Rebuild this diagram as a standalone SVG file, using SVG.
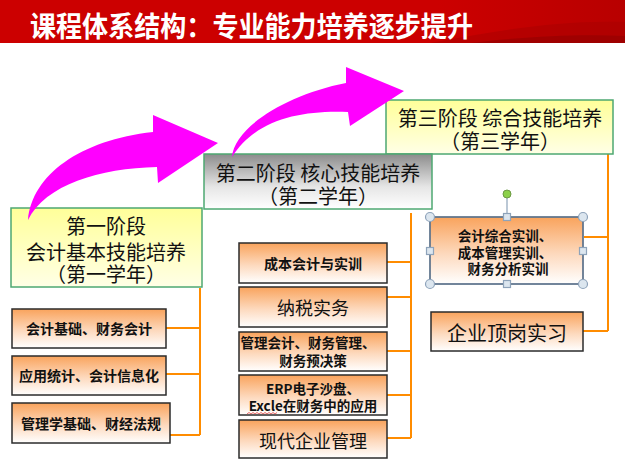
<svg xmlns="http://www.w3.org/2000/svg" width="625" height="463" viewBox="0 0 625 463">
<defs>
<linearGradient id="gTitle" x1="0" y1="0" x2="1" y2="0">
<stop offset="0" stop-color="#cc0000"/><stop offset="0.7" stop-color="#cc0000"/><stop offset="1" stop-color="#b80000"/>
</linearGradient>
<linearGradient id="gYellow" x1="0" y1="0" x2="0" y2="1">
<stop offset="0" stop-color="#ffff99"/><stop offset="1" stop-color="#ffffe6"/>
</linearGradient>
<linearGradient id="gGray" x1="0" y1="0" x2="0" y2="1">
<stop offset="0" stop-color="#8c8c8c"/><stop offset="0.6" stop-color="#e6e6e6"/><stop offset="1" stop-color="#ffffff"/>
</linearGradient>
<linearGradient id="gOrange" x1="0" y1="0" x2="0" y2="1">
<stop offset="0" stop-color="#f9a35c"/><stop offset="0.55" stop-color="#fdd9bd"/><stop offset="1" stop-color="#ffffff"/>
</linearGradient>
<style>
.stage{stroke:#4ea872;stroke-width:1.5}
.item{fill:url(#gOrange);stroke:#2b2b2b;stroke-width:1.5}
.t{font-family:"Noto Sans CJK SC","Liberation Sans",sans-serif;fill:#111;text-anchor:middle;dominant-baseline:central}
.s{font-size:20px}
.i{font-size:14px;font-weight:bold}
.m{font-size:13.5px;font-weight:bold}
.b{font-size:18px}
.con{stroke:#ff8c00;stroke-width:2;fill:none}
.arrow{fill:#ff00ff}
.h{fill:#dce6ef;stroke:#8ea3ba;stroke-width:1.2}
</style>
</defs>
<rect x="0" y="0" width="625" height="463" fill="#ffffff"/>
<g id="title">
<rect x="0" y="0" width="625" height="43" fill="url(#gTitle)"/>
<path d="M430,43 C500,30 560,20 625,22 L625,43 Z" fill="#a80000" opacity="0.5"/>
<path d="M470,43 C530,36 580,34 625,36 L625,43 Z" fill="#8c0000" opacity="0.5"/>
<text x="30" y="25" textLength="443" lengthAdjust="spacingAndGlyphs" style="font-family:'Noto Sans CJK SC','Liberation Sans',sans-serif;font-size:28px;font-weight:bold;fill:#ffffff;dominant-baseline:central">课程体系结构：专业能力培养逐步提升</text>
</g>
<g id="connectors">
<path class="con" d="M200,288 V435 M166,328 H200 M166,374 H200 M170,435 H200"/>
<path class="con" d="M411,213 V438 M387,262 H411 M387,297 H411 M387,351 H411 M387,395 H411 M387,438 H411"/>
<path class="con" d="M608,154 V331 M584,237 H608 M583,331 H608"/>
</g>
<g id="stage3">
<rect class="stage" x="386" y="100" width="227" height="54" fill="url(#gYellow)"/>
<text class="t s"><tspan x="500" y="117">第三阶段 综合技能培养</tspan><tspan x="500" y="140">（第三学年）</tspan></text>
</g>
<g id="stage2">
<rect class="stage" x="204" y="154" width="228" height="55" fill="url(#gGray)"/>
<text class="t s"><tspan x="318" y="172">第二阶段 核心技能培养</tspan><tspan x="318" y="195">（第二学年）</tspan></text>
</g>
<g id="stage1">
<rect class="stage" x="11" y="208" width="191" height="79" fill="url(#gYellow)"/>
<text class="t s"><tspan x="106" y="225">第一阶段</tspan><tspan x="106" y="251">会计基本技能培养</tspan><tspan x="106" y="273">（第一学年）</tspan></text>
</g>
<g id="s1-item1">
<rect class="item" x="12" y="309" width="154" height="39"/>
<text class="t i" x="89" y="328">会计基础、财务会计</text>
</g>
<g id="s1-item2">
<rect class="item" x="12" y="356" width="154" height="39"/>
<text class="t i" x="89" y="375">应用统计、会计信息化</text>
</g>
<g id="s1-item3">
<rect class="item" x="12" y="403" width="158" height="40"/>
<text class="t i" x="91" y="423">管理学基础、财经法规</text>
</g>
<g id="s2-item1">
<rect class="item" x="239" y="243" width="148" height="40"/>
<text class="t i" x="313" y="263">成本会计与实训</text>
</g>
<g id="s2-item2">
<rect class="item" x="239" y="287" width="148" height="40"/>
<text class="t b" x="313" y="307">纳税实务</text>
</g>
<g id="s2-item3">
<rect class="item" x="239" y="332" width="148" height="39"/>
<text class="t m"><tspan x="308" y="342">管理会计、财务管理、</tspan><tspan x="313" y="360">财务预决策</tspan></text>
</g>
<g id="s2-item4">
<rect class="item" x="239" y="375" width="148" height="40"/>
<text class="t m"><tspan x="313" y="388">ERP电子沙盘、</tspan><tspan x="313" y="405">Excle在财务中的应用</tspan></text>
<path d="M247,414 l2,-1.5 l2,1.5 l2,-1.5 l2,1.5 l2,-1.5 l2,1.5 l2,-1.5 l2,1.5 l2,-1.5 l2,1.5 l2,-1.5 l2,1.5 l2,-1.5 l2,1.5 l2,-1.5" fill="none" stroke="#e04040" stroke-width="0.8"/>
</g>
<g id="s2-item5">
<rect class="item" x="239" y="420" width="148" height="38"/>
<text class="t b" x="313" y="440">现代企业管理</text>
</g>
<g id="s3-item1">
<rect x="430" y="217" width="153" height="67" fill="url(#gOrange)" stroke="#1f3550" stroke-width="1.5"/>
<rect x="430" y="217" width="153" height="67" fill="none" stroke="#8ea3ba" stroke-width="1"/>
<text class="t m"><tspan x="505" y="235">会计综合实训、</tspan><tspan x="505" y="252">成本管理实训、</tspan><tspan x="508" y="268">财务分析实训</tspan></text>
<line x1="507" y1="198" x2="507" y2="214" stroke="#8ea3ba" stroke-width="1.2"/>
<circle cx="507" cy="194" r="4" fill="#8cd14a" stroke="#6d9a45" stroke-width="1"/>
<circle class="h" cx="430" cy="217" r="4.5"/>
<circle class="h" cx="583" cy="217" r="4.5"/>
<circle class="h" cx="430" cy="284" r="4.5"/>
<circle class="h" cx="583" cy="284" r="4.5"/>
<rect class="h" x="503.5" y="213.5" width="7" height="7"/>
<rect class="h" x="503.5" y="280.5" width="7" height="7"/>
<rect class="h" x="426.5" y="247.5" width="7" height="7"/>
<rect class="h" x="579.5" y="247.5" width="7" height="7"/>
</g>
<g id="s3-item2">
<rect class="item" x="431" y="312" width="152" height="39"/>
<text class="t s" x="507" y="332">企业顶岗实习</text>
</g>
<g id="arrows">
<path class="arrow" d="M28,220 C32,175 80,140 153,132 L153,115 L218,143 L158,183 L157,167 C100,168 45,185 28,220 Z"/>
<path class="arrow" d="M232,157 C234,128 285,95 346,83 L346,67 L404,91 L350,126 L348,112 C300,110 255,120 232,157 Z"/>
</g>
</svg>
